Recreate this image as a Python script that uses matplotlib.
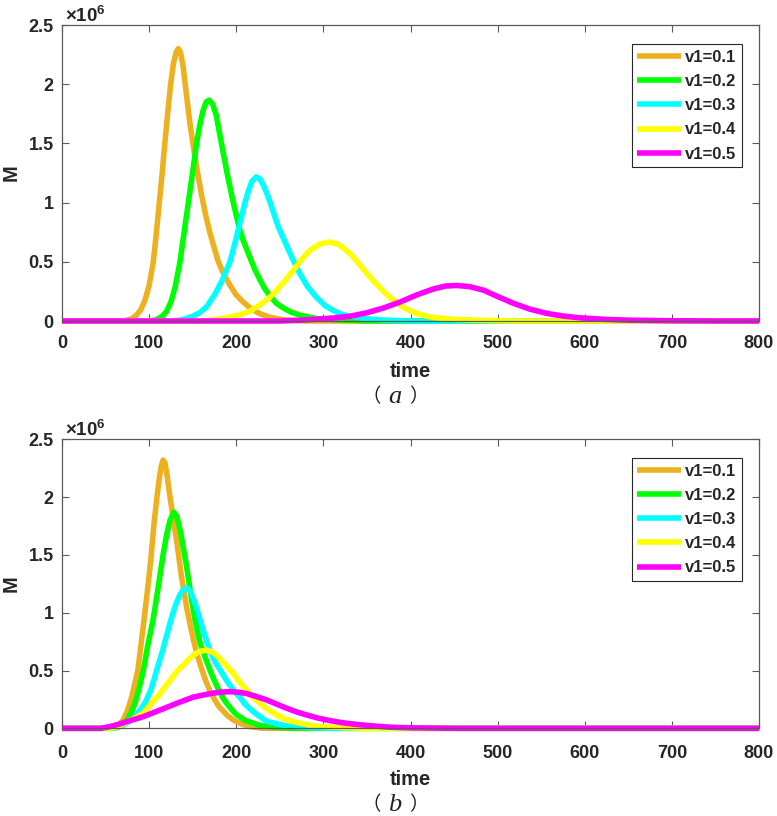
import matplotlib

matplotlib.use("Agg")
import matplotlib.pyplot as plt

# values of M are in units of 1e6
LABELS = ["v1=0.1", "v1=0.2", "v1=0.3", "v1=0.4", "v1=0.5"]
COLORS = ["#EDB120", "#00FF00", "#00FFFF", "#FFFF00", "#FF00FF"]

# --- panel (a) ---------------------------------------------------------------
t_a1 = [0, 70, 75, 80, 85, 90, 95, 100, 104.8, 108, 111.7, 115, 118, 121.5, 124.7, 128,
        131, 133.5, 136, 139, 143, 147, 150.7, 155, 160, 165, 170, 175, 179.4, 186, 193, 200,
        208, 216, 226, 239, 255, 280, 800]
m_a1 = [0, 0, 0.008, 0.02, 0.045, 0.09, 0.17, 0.3, 0.5, 0.72, 1.0, 1.25, 1.5, 1.77, 2.0, 2.18,
        2.27, 2.30, 2.27, 2.15, 1.9, 1.66, 1.48, 1.28, 1.07, 0.89, 0.74, 0.61, 0.5, 0.39, 0.3,
        0.22, 0.16, 0.11, 0.065, 0.03, 0.01, 0, 0]

t_a2 = [0, 100, 108, 115, 120, 125, 130, 135.4, 140, 145, 150, 154.5, 158, 162, 165.5, 169,
        173, 177, 183, 190, 196.6, 203, 208, 215, 221, 227, 233, 239, 246, 254, 263, 273,
        292, 330, 360, 800]
m_a2 = [0, 0, 0.01, 0.04, 0.08, 0.16, 0.29, 0.5, 0.74, 1.0, 1.26, 1.5, 1.65, 1.78, 1.85, 1.865,
        1.83, 1.74, 1.5, 1.23, 1.0, 0.8, 0.68, 0.55, 0.44, 0.35, 0.27, 0.21, 0.15, 0.11, 0.075,
        0.05, 0.02, 0.005, 0, 0]

t_a3 = [0, 130, 140, 150, 158, 166, 175, 183, 192.8, 200, 206, 210, 214, 218, 223, 227, 231,
        235, 239, 248, 254, 260, 265, 273, 282, 292, 302, 311, 320, 330, 350, 369, 400, 800]
m_a3 = [0, 0, 0.015, 0.04, 0.07, 0.12, 0.22, 0.33, 0.5, 0.7, 0.88, 1.0, 1.1, 1.18, 1.217, 1.2,
        1.15, 1.08, 1.0, 0.8, 0.7, 0.6, 0.52, 0.4, 0.29, 0.2, 0.13, 0.09, 0.06, 0.04, 0.018,
        0.008, 0, 0]

t_a4 = [0, 160, 175, 190, 203, 215, 227, 237, 246.5, 256, 265.6, 275, 285, 296, 307.7, 318,
        330.6, 340, 350, 360, 369, 378, 388, 397, 407, 416, 426, 453, 484, 520, 800]
m_a4 = [0, 0, 0.01, 0.03, 0.05, 0.08, 0.135, 0.19, 0.26, 0.34, 0.43, 0.52, 0.6, 0.65, 0.668,
        0.645, 0.57, 0.49, 0.4, 0.32, 0.25, 0.19, 0.135, 0.095, 0.065, 0.045, 0.03, 0.012,
        0.005, 0, 0]

t_a5 = [0, 250, 270, 292, 311, 330.6, 350, 369, 388, 407, 426, 440, 453, 468, 484, 499, 518,
        537, 556, 575, 594, 620, 650, 700, 750, 800]
m_a5 = [0, 0, 0.005, 0.015, 0.025, 0.04, 0.07, 0.11, 0.16, 0.22, 0.27, 0.295, 0.30, 0.29,
        0.26, 0.21, 0.15, 0.10, 0.065, 0.042, 0.027, 0.015, 0.007, 0.002, 0, 0]

# --- panel (b) ---------------------------------------------------------------
t_b1 = [0, 55, 60, 65, 70, 75, 80, 84, 87, 90, 94, 97, 100, 103, 106, 109, 112, 114, 116, 118,
        120, 124, 128, 132, 137, 143, 147, 151, 155, 160, 165, 170, 175, 180, 190, 197, 207,
        216, 230, 800]
m_b1 = [0, 0, 0.01, 0.03, 0.07, 0.15, 0.27, 0.4, 0.5, 0.68, 0.93, 1.12, 1.32, 1.55, 1.8, 2.0,
        2.18, 2.27, 2.32, 2.3, 2.22, 2.0, 1.8, 1.6, 1.32, 1.05, 0.9, 0.76, 0.64, 0.52, 0.41,
        0.32, 0.25, 0.19, 0.11, 0.07, 0.035, 0.015, 0, 0]

t_b2 = [0, 58, 65, 70, 74.2, 79, 83.8, 88, 93.4, 98, 104.5, 108, 112, 116, 120, 124, 128.5,
        132, 136, 140, 143, 148, 152.7, 158, 164, 170, 175, 180, 185, 189, 195, 200, 210, 227,
        245, 265, 800]
m_b2 = [0, 0, 0.01, 0.03, 0.07, 0.13, 0.216, 0.33, 0.5, 0.7, 0.937, 1.1, 1.3, 1.5, 1.67, 1.8,
        1.87, 1.83, 1.7, 1.53, 1.4, 1.15, 0.937, 0.75, 0.62, 0.5, 0.41, 0.33, 0.26, 0.216,
        0.16, 0.12, 0.07, 0.025, 0.008, 0, 0]

t_b3 = [0, 60, 70, 80, 88, 95, 102, 108.6, 115, 120, 125, 130, 135, 139, 143, 147, 151, 155,
        158.4, 164, 170, 176, 182, 190, 200, 204, 210, 220, 235, 258, 288, 310, 800]
m_b3 = [0, 0, 0.025, 0.07, 0.14, 0.216, 0.33, 0.5, 0.66, 0.8, 0.937, 1.06, 1.15, 1.2, 1.215,
        1.19, 1.12, 1.03, 0.937, 0.8, 0.67, 0.57, 0.5, 0.4, 0.3, 0.27, 0.21, 0.14, 0.06, 0.02,
        0.005, 0, 0]

t_b4 = [0, 55, 65, 74, 93, 112.5, 131.7, 150.7, 158, 166, 174, 181, 189, 196.7, 204, 212, 220,
        227, 237, 246.5, 256, 265.6, 288, 323, 350, 800]
m_b4 = [0, 0, 0.015, 0.05, 0.13, 0.3, 0.49, 0.634, 0.665, 0.677, 0.655, 0.605, 0.54, 0.476,
        0.4, 0.33, 0.265, 0.216, 0.16, 0.115, 0.08, 0.057, 0.02, 0.005, 0, 0]

t_b5 = [0, 45, 55, 65, 74, 93, 112.5, 131.7, 150.7, 170, 182, 193, 203, 212, 223, 235, 246,
        258, 270, 281, 293, 304, 316, 327, 340, 350, 375, 400, 450, 800]
m_b5 = [0, 0, 0.015, 0.035, 0.057, 0.1, 0.158, 0.216, 0.27, 0.3, 0.313, 0.317, 0.312, 0.3,
        0.275, 0.245, 0.21, 0.173, 0.14, 0.115, 0.09, 0.072, 0.055, 0.043, 0.032, 0.025, 0.01,
        0.004, 0, 0]

X_TICKS = [0, 100, 200, 300, 400, 500, 600, 700, 800]
Y_TICKS = [0, 0.5, 1, 1.5, 2, 2.5]
Y_TICKLABELS = ["0", "0.5", "1", "1.5", "2", "2.5"]

plt.rcParams.update({
    "font.family": "Liberation Sans",
    "font.weight": "bold",
    "mathtext.fontset": "custom",
    "mathtext.rm": "Liberation Sans:bold",
    "mathtext.it": "Liberation Sans:bold",
    "mathtext.bf": "Liberation Sans:bold",
})

W, H = 777, 816
fig = plt.figure(figsize=(W / 100, H / 100), dpi=100)
fig.patch.set_facecolor("white")

AX_DARK = "#262626"
CJK = "Noto Sans CJK SC"


def draw_panel(rect, series, xpad, xlabel_y, letter, caption_y, ylabel_x):
    left, top, right, bottom = rect
    ax = fig.add_axes([left / W, (H - bottom) / H, (right - left) / W, (bottom - top) / H])
    for (t, m), c, lab in zip(series, COLORS, LABELS):
        ax.plot(t, m, color=c, lw=4.0, label=lab, clip_on=False,
                solid_capstyle="butt", solid_joinstyle="round")
    ax.set_xlim(0, 800)
    ax.set_ylim(0, 2.5)
    ax.set_xticks(X_TICKS)
    ax.set_yticks(Y_TICKS)
    ax.set_yticklabels(Y_TICKLABELS)
    for s in ax.spines.values():
        s.set_color("#5a5a5a")
        s.set_linewidth(0.9)
    ax.tick_params(direction="in", length=5, width=0.8, color="#5a5a5a",
                   top=True, right=True, labelsize=13, labelcolor=AX_DARK)
    ax.tick_params(axis="x", pad=xpad)
    ax.tick_params(axis="y", pad=6)
    for lbl in ax.get_xticklabels() + ax.get_yticklabels():
        lbl.set_fontweight("bold")

    ax.set_xlabel("time", fontsize=14.5, fontweight="bold", color=AX_DARK)
    ax.xaxis.set_label_coords(0.5, xlabel_y)
    ax.set_ylabel("M", fontsize=14.5, fontweight="bold", color=AX_DARK)
    ax.yaxis.set_label_coords(ylabel_x, 0.5)

    ax.annotate("×10$^{6}$", xy=(0, 1), xycoords="axes fraction", xytext=(2.2, 2.2),
                textcoords="offset points", ha="left", va="baseline",
                fontsize=13.5, fontweight="bold", color=AX_DARK)

    leg = ax.legend(loc="upper right", bbox_to_anchor=(1 - 17 / 697, 1 - 19 / 296),
                    borderaxespad=0, handlelength=2.6, handletextpad=0.25,
                    labelspacing=0.55, borderpad=0.35, fancybox=False, framealpha=1,
                    edgecolor=AX_DARK, prop={"weight": "bold", "size": 12})
    leg.get_frame().set_linewidth(0.8)
    for txt in leg.get_texts():
        txt.set_color(AX_DARK)

    # caption: full-width brackets around an italic letter
    yc = 1 - caption_y / H
    fig.text(381 / W, yc, "（", ha="right", va="center", fontsize=14,
             fontweight="normal", family=CJK, color="#222222")
    fig.text(394.5 / W, yc, letter, ha="center", va="center", fontsize=19,
             style="italic", fontweight="normal", family="Liberation Serif", color="#222222")
    fig.text(409 / W, yc, "）", ha="left", va="center", fontsize=14,
             fontweight="normal", family=CJK, color="#222222")
    return ax


draw_panel((62, 25, 759, 321),
           [(t_a1, m_a1), (t_a2, m_a2), (t_a3, m_a3), (t_a4, m_a4), (t_a5, m_a5)],
           xpad=10, xlabel_y=-0.1385, letter="a", caption_y=397, ylabel_x=-0.0588)
draw_panel((62, 439.3, 759, 728.3),
           [(t_b1, m_b1), (t_b2, m_b2), (t_b3, m_b3), (t_b4, m_b4), (t_b5, m_b5)],
           xpad=12, xlabel_y=-0.145, letter="b", caption_y=805, ylabel_x=-0.0588)

fig.savefig("out.png", dpi=100)
